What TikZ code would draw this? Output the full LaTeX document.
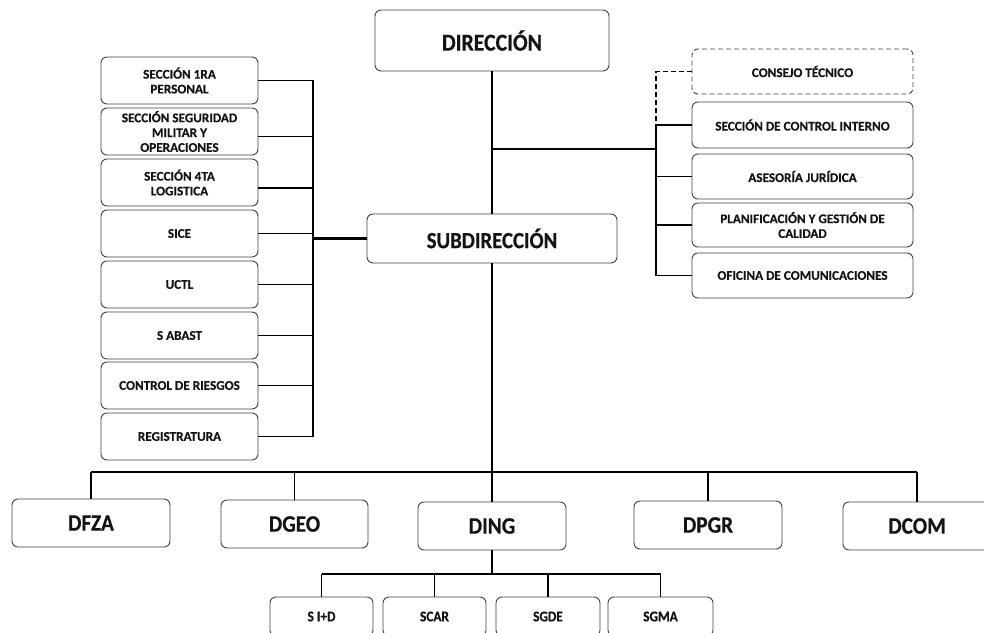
\documentclass[tikz,border=0pt]{standalone}
\usepackage{fontspec}
\setmainfont{Carlito}
\newfontfamily\condfont{Carlito}[FakeStretch=0.9, FakeBold=0.5]
\newfontfamily\plainfont{Carlito}[FakeStretch=1.0, FakeBold=0.4]
\usetikzlibrary{calc}
\begin{document}
\begin{tikzpicture}[x=1pt,y=-1pt,
  box/.style={draw=black!75, line width=0.9pt, rounded corners=6pt, fill=white, inner sep=0pt, align=center, text=black!92},
  topbox/.style={box, font=\condfont\fontsize{24.2}{26}\selectfont\bfseries},
  subbox/.style={box, font=\condfont\fontsize{23.1}{26}\selectfont\bfseries},
  depbox/.style={box, minimum width=148pt, minimum height=48pt, font=\condfont\fontsize{23.6}{26}\selectfont\bfseries},
  leftbox/.style={box, minimum width=157pt, minimum height=47pt, font=\plainfont\fontsize{13.2}{14.8}\selectfont\bfseries},
  rightbox/.style={box, minimum width=221pt, minimum height=46pt, font=\plainfont\fontsize{13.2}{14.8}\selectfont\bfseries},
  secbox/.style={box, minimum width=103pt, minimum height=39pt, font=\condfont\fontsize{14.8}{16}\selectfont\bfseries},
  conn/.style={draw=black, line width=1.4pt},
  busline/.style={draw=black, line width=1.9pt},
  thickline/.style={draw=black, line width=3pt},
  dashline/.style={draw=black, line width=1.4pt, dash pattern=on 5pt off 3pt}
]
\useasboundingbox (0,0) rectangle (984,632);

% top
\node[topbox, minimum width=234pt, minimum height=61pt] (dir) at (492,40.5) {DIRECCIÓN};
\node[subbox, minimum width=250pt, minimum height=49pt] (sub) at (492,238.5) {SUBDIRECCIÓN};

% left column
\node[leftbox] (b1) at (179.5,80.5) {SECCIÓN 1RA\\PERSONAL};
\node[leftbox] (b2) at (179.5,131.5) {SECCIÓN SEGURIDAD\\MILITAR Y\\OPERACIONES};
\node[leftbox] (b3) at (179.5,182.5) {SECCIÓN 4TA\\LOGISTICA};
\node[leftbox] (b4) at (179.5,233.5) {SICE};
\node[leftbox] (b5) at (179.5,284.5) {UCTL};
\node[leftbox] (b6) at (179.5,335.5) {S ABAST};
\node[leftbox] (b7) at (179.5,385.5) {CONTROL DE RIESGOS};
\node[leftbox] (b8) at (179.5,436.5) {REGISTRATURA};

% right column
\node[rightbox, minimum height=45pt, dash pattern=on 5pt off 3pt] (cons) at (802.5,71.5) {CONSEJO TÉCNICO};
\node[rightbox] (sci) at (802.5,125) {SECCIÓN DE CONTROL INTERNO};
\node[rightbox, minimum height=45pt] (ase) at (802.5,176.5) {ASESORÍA JURÍDICA};
\node[rightbox, minimum height=44pt] (pla) at (802.5,225) {PLANIFICACIÓN Y GESTIÓN DE\\CALIDAD};
\node[rightbox, minimum height=45pt] (ofi) at (802.5,275.5) {OFICINA DE COMUNICACIONES};

% departments
\node[depbox, minimum width=158pt] (dfza) at (91,523) {DFZA};
\node[depbox, minimum width=147pt] (dgeo) at (294.5,524) {DGEO};
\node[depbox] (ding) at (492,526) {DING};
\node[depbox] (dpgr) at (708,525) {DPGR};
\node[depbox] (dcom) at (917,526) {DCOM};

% sections of DING
\node[secbox] (sid) at (321.5,616.5) {S I+D};
\node[secbox] (scar) at (434.5,616.5) {SCAR};
\node[secbox, minimum width=104pt] (sgde) at (548,616.5) {SGDE};
\node[secbox, minimum width=105pt] (sgma) at (660.5,616.5) {SGMA};

% helper coordinates
\coordinate (rj) at (492,149);
\coordinate (rb) at (656,149);
\coordinate (lb) at (313,0);
\coordinate (bb) at (0,471.7);
\coordinate (sb) at (0,574);

% direction to subdirection
\draw[conn] (dir.south) -- (sub.north);
\draw[conn] (rj) -- (rb);

% right bus
\draw[conn] (sci.west) -- (sci.west -| rb) -- (ofi.west -| rb) -- (ofi.west);
\draw[conn] (ase.west) -- (ase.west -| rb);
\draw[conn] (pla.west) -- (pla.west -| rb);
\draw[dashline] (cons.west) -- (cons.west -| rb) -- ($(sci.west -| rb)+(0,-3)$);

% left bus
\draw[busline] (b1.east) -- (b1.east -| lb) -- (b8.east -| lb) -- (b8.east);
\draw[busline] ($(b2.east)+(0,5)$) -- ($(b2.east -| lb)+(0,5)$);
\draw[busline] ($(b3.east)+(0,5.5)$) -- ($(b3.east -| lb)+(0,5.5)$);
\draw[busline] (b4.east) -- (b4.east -| lb);
\draw[busline] (b5.east) -- (b5.east -| lb);
\draw[busline] (b6.east) -- (b6.east -| lb);
\draw[busline] (b7.east) -- (b7.east -| lb);
\draw[thickline] (sub.west -| lb) -- (sub.west);

% bottom bus
\draw[busline] (sub.south) -- (sub.south |- bb);
\draw[busline] (dfza.north |- bb) -- (dcom.north |- bb);
\draw[conn] (dfza.north |- bb) -- (dfza.north);
\draw[conn] (dgeo.north |- bb) -- (dgeo.north);
\draw[conn] (ding.north |- bb) -- (ding.north);
\draw[conn] (dpgr.north |- bb) -- (dpgr.north);
\draw[conn] (dcom.north |- bb) -- (dcom.north);

% DING sub bus
\draw[conn] (ding.south) -- (ding.south |- sb);
\draw[busline] (sid.north |- sb) -- (sgma.north |- sb);
\draw[conn] (sid.north |- sb) -- (sid.north);
\draw[conn] (scar.north |- sb) -- (scar.north);
\draw[conn] (sgde.north |- sb) -- (sgde.north);
\draw[conn] (sgma.north |- sb) -- (sgma.north);
\end{tikzpicture}
\end{document}
